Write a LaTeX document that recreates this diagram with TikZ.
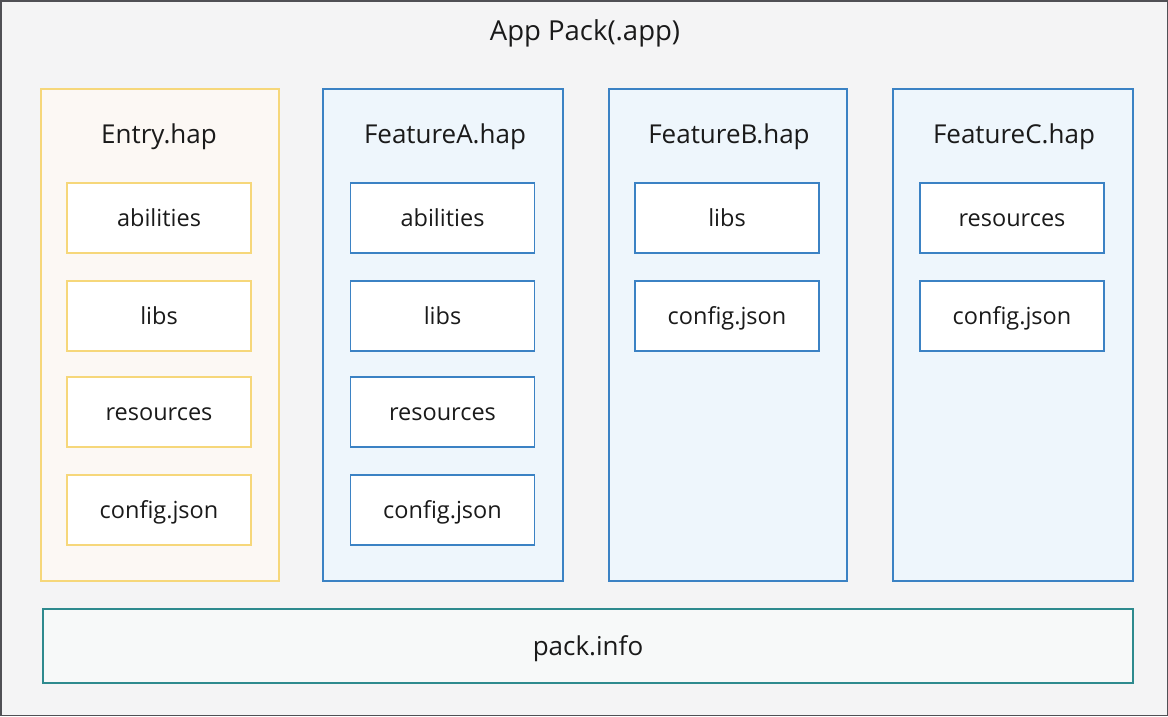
\documentclass[tikz,border=0pt]{standalone}
\usepackage{fontspec}
\setmainfont{Open Sans}
\definecolor{bgc}{HTML}{F4F4F5}
\definecolor{framec}{HTML}{505055}
\definecolor{yelc}{HTML}{F6D77A}
\definecolor{yelfill}{HTML}{FCF8F4}
\definecolor{bluec}{HTML}{3B82C4}
\definecolor{bluefill}{HTML}{EEF6FC}
\definecolor{tealc}{HTML}{2E8A8E}
\definecolor{tealfill}{HTML}{F7F9F9}
\definecolor{txt}{HTML}{1A1A1A}
\tikzset{
  x=1pt, y=-1pt,
  hapbox/.style={line width=1.6pt},
  item/.style={draw, fill=white, line width=1.4pt, minimum width=184pt, minimum height=70pt, inner sep=0pt, text height=21pt, text depth=4pt, font=\fontsize{23.5}{28}\selectfont, text=txt},
  yitem/.style={item, draw=yelc},
  bitem/.style={item, draw=bluec},
  hdr/.style={font=\fontsize{26}{30}\selectfont, text=txt, text height=24pt, text depth=5pt},
}
\begin{document}
\begin{tikzpicture}
\useasboundingbox (0,0) rectangle (1168,716);
\draw[framec, fill=bgc, line width=1.5pt] (0.75,0.75) rectangle (1167.25,715.25);
\node[hdr, font=\fontsize{27.5}{32}\selectfont] (title) at (585,31) {App Pack(.app)};
% Entry
\draw[hapbox, draw=yelc, fill=yelfill] (41,89) rectangle (279,581);
\node[hdr] (entry) at (159,134) {Entry.hap};
\node[yitem] (e1) at (159,218) {abilities};
\node[yitem] (e2) at (159,316) {libs};
\node[yitem] (e3) at (159,412) {resources};
\node[yitem] (e4) at (159,510) {config.json};
% FeatureA
\draw[hapbox, draw=bluec, fill=bluefill] (323,89) rectangle (563,581);
\node[hdr] (fa) at (445,134) {FeatureA.hap};
\node[bitem] (a1) at (442.5,218) {abilities};
\node[bitem] (a2) at (442.5,316) {libs};
\node[bitem] (a3) at (442.5,412) {resources};
\node[bitem] (a4) at (442.5,510) {config.json};
% FeatureB
\draw[hapbox, draw=bluec, fill=bluefill] (609,89) rectangle (847,581);
\node[hdr] (fb) at (729,134) {FeatureB.hap};
\node[bitem] (b1) at (727,218) {libs};
\node[bitem] (b2) at (727,316) {config.json};
% FeatureC
\draw[hapbox, draw=bluec, fill=bluefill] (893,89) rectangle (1133,581);
\node[hdr] (fc) at (1014,134) {FeatureC.hap};
\node[bitem] (c1) at (1012,218) {resources};
\node[bitem] (c2) at (1012,316) {config.json};
% pack.info
\node[draw=tealc, fill=tealfill, line width=1.6pt, minimum width=1090pt, minimum height=74pt, inner sep=0pt, text height=24pt, text depth=5pt, font=\fontsize{26}{30}\selectfont, text=txt] (pack) at (588,646) {pack.info};
\end{tikzpicture}
\end{document}
